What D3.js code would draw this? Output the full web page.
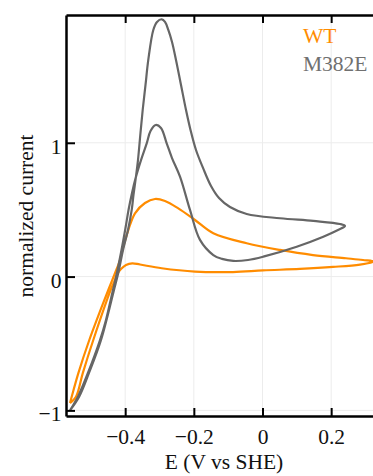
<!DOCTYPE html>
<html>
<head>
<meta charset="utf-8">
<script src="https://cdn.jsdelivr.net/npm/d3@7"></script>
<style>
  html, body { margin: 0; padding: 0; background: #fff; }
  svg { display: block; }
</style>
</head>
<body>
<svg id="chart" width="373" height="476"></svg>
<script>
// ---- data ----
const seriesNames = ["WT", "M382E"];
const xTickValues = [-0.4, -0.2, 0, 0.2];
const yTickValues = [-1, 0, 1];

// M382E cyclic voltammogram (E in V vs SHE, normalized current)
const m382eE = [-0.5607,-0.5366,-0.5074,-0.4733,-0.4559,-0.4369,-0.4267,-0.4107,-0.3991,-0.3903,-0.3801,-0.3685,-0.3539,-0.3373,-0.3262,-0.3111,-0.2957,-0.2791,-0.2636,-0.2403,-0.2112,-0.1821,-0.1433,-0.118,-0.0851,-0.0422,0.0023,0.0996,0.1771,0.2199,0.2403,
  0.2257,0.148,0.051,-0.046,-0.0947,-0.1267,-0.15,-0.1733,-0.1937,-0.2097,-0.2228,-0.2374,-0.252,-0.2636,-0.2744,-0.284,-0.2936,-0.3073,-0.3181,-0.3327,-0.3408,-0.349,-0.356,-0.3627,-0.3699,-0.3758,-0.381,-0.3918,-0.4063,-0.4195,-0.4326,-0.4704,-0.5054,-0.5345,-0.5607];
const m382eI = [-1.0,-0.892,-0.713,-0.474,-0.324,-0.115,-0.003,0.199,0.363,0.498,0.625,0.747,0.871,0.996,1.088,1.133,1.111,0.996,0.886,0.747,0.498,0.274,0.161,0.132,0.117,0.124,0.149,0.223,0.298,0.348,0.378,
  0.393,0.416,0.436,0.468,0.520,0.587,0.677,0.812,0.946,1.096,1.245,1.432,1.619,1.753,1.843,1.903,1.923,1.903,1.843,1.619,1.432,1.245,1.058,0.871,0.722,0.610,0.498,0.348,0.199,0.034,-0.1,-0.474,-0.72,-0.9,-1.0];

// WT cyclic voltammogram
const wtE = [-0.5607,-0.5433,-0.5237,-0.4929,-0.4422,-0.4297,-0.4209,-0.4122,-0.3976,-0.3793,-0.3568,-0.2936,-0.1966,-0.0859,0.0015,0.1092,0.2054,0.284,0.3248,
  0.2927,0.2432,0.1471,0.051,-0.046,-0.1433,-0.1966,-0.2453,-0.284,-0.3131,-0.3423,-0.3714,-0.3909,-0.4055,-0.4151,-0.4297,-0.4492,-0.5045,-0.5366,-0.5558,-0.5607];
const wtI = [-0.945,-0.898,-0.723,-0.474,-0.1,-0.025,0.027,0.057,0.087,0.099,0.090,0.062,0.037,0.034,0.046,0.057,0.072,0.090,0.113,
  0.124,0.137,0.161,0.199,0.249,0.324,0.423,0.510,0.565,0.580,0.550,0.473,0.348,0.223,0.124,0.025,-0.1,-0.474,-0.723,-0.898,-0.945];

const xDomain = [-0.5724, 0.34];
const yDomain = [-1.042, 1.955];

(function () {
  const svg = d3.select("#chart");
  const pLeft = 66, pTop = 15, pBottom = 416;
  const pRight = pLeft + (xDomain[1] - xDomain[0]) * 343.3;
  const colors = { WT: "#ff8c00", M382E: "#666666" };
  const fontSize = "21.5px";
  const serif = "'Liberation Serif', 'Times New Roman', Tinos, 'DejaVu Serif', 'Noto Serif', Times, serif";

  const x = d3.scaleLinear().domain(xDomain).range([pLeft, pRight]);
  const y = d3.scaleLinear().domain(yDomain).range([pBottom, pTop]);

  svg.append("defs").append("clipPath").attr("id", "plotclip")
    .append("rect").attr("x", pLeft).attr("y", pTop)
    .attr("width", pRight - pLeft).attr("height", pBottom - pTop);

  // grid
  const grid = svg.append("g").attr("stroke", "#ececec").attr("stroke-width", 1);
  grid.selectAll("line.gx").data(xTickValues).join("line").attr("class", "gx")
    .attr("x1", d => x(d)).attr("x2", d => x(d)).attr("y1", pTop).attr("y2", pBottom);
  grid.selectAll("line.gy").data(yTickValues).join("line").attr("class", "gy")
    .attr("x1", pLeft).attr("x2", pRight).attr("y1", d => y(d)).attr("y2", d => y(d));

  // curves
  const line = d3.line()
    .x(d => x(d[0])).y(d => y(d[1]))
    .curve(d3.curveCatmullRom.alpha(0.5));
  const series = [
    { name: "WT", pts: d3.zip(wtE, wtI) },
    { name: "M382E", pts: d3.zip(m382eE, m382eI) }
  ];
  const plot = svg.append("g").attr("clip-path", "url(#plotclip)");
  plot.selectAll("path").data(series).join("path")
    .attr("d", d => line(d.pts))
    .attr("fill", "none")
    .attr("stroke", d => colors[d.name])
    .attr("stroke-width", 2.2)
    .attr("stroke-linejoin", "round");

  // axes
  function styleAxis(g) {
    g.attr("font-family", serif).attr("font-size", fontSize);
    g.select(".domain").attr("stroke", "#000").attr("stroke-width", 2.5);
    g.selectAll(".tick line").attr("stroke", "#000").attr("stroke-width", 2);
    g.selectAll("text").attr("fill", "#111").style("font-family", serif).style("font-size", fontSize);
  }
  const fmt = d3.format("");

  const xAxis = svg.append("g").attr("transform", `translate(0,${pBottom})`)
    .call(d3.axisBottom(x).tickValues(xTickValues).tickSizeInner(-8).tickSizeOuter(0).tickFormat(fmt));
  styleAxis(xAxis);
  xAxis.selectAll("text").attr("y", 28).attr("dy", 0);

  const topAxis = svg.append("g").attr("transform", `translate(0,${pTop})`)
    .call(d3.axisTop(x).tickValues(xTickValues).tickSizeInner(-8).tickSizeOuter(0).tickFormat(""));
  styleAxis(topAxis);

  const yAxis = svg.append("g").attr("transform", `translate(${pLeft},0)`)
    .call(d3.axisLeft(y).tickValues(yTickValues).tickSizeInner(-9).tickSizeOuter(0).tickFormat(fmt));
  styleAxis(yAxis);
  yAxis.selectAll("text").attr("x", -4.5).attr("dy", "10.5px");

  // axis titles
  svg.append("text").attr("x", 224).attr("y", 468.5).attr("text-anchor", "middle")
    .style("font-family", serif).style("font-size", fontSize).attr("fill", "#111").text("E (V vs SHE)");
  svg.append("text").attr("transform", "translate(33,216) rotate(-90)").attr("text-anchor", "middle")
    .style("font-family", serif).style("font-size", fontSize).attr("fill", "#111").text("normalized current");

  // legend
  svg.append("g").selectAll("text").data(seriesNames).join("text")
    .attr("x", 303).attr("y", (d, i) => 43 + i * 27.7)
    .style("font-family", serif).style("font-size", fontSize)
    .attr("fill", d => d === "WT" ? colors.WT : "#707070")
    .text(d => d);
})();
</script>
</body>
</html>
